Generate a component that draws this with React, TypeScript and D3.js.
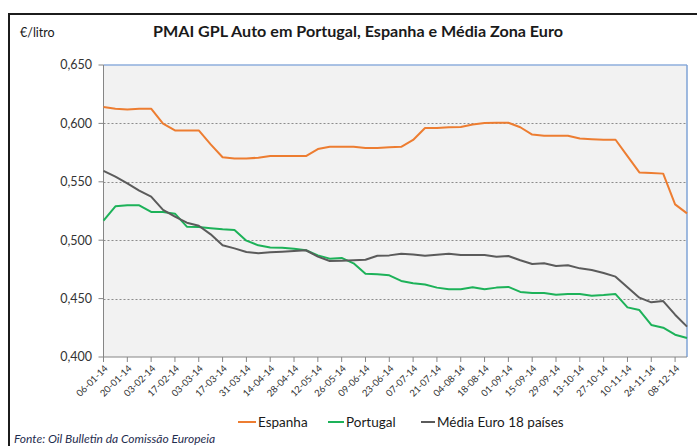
import React from "react";
import * as d3 from "d3";

const dates = [
  "06-01-14","13-01-14","20-01-14","27-01-14","03-02-14","10-02-14","17-02-14","24-02-14",
  "03-03-14","10-03-14","17-03-14","24-03-14","31-03-14","07-04-14","14-04-14","21-04-14",
  "28-04-14","05-05-14","12-05-14","19-05-14","26-05-14","02-06-14","09-06-14","16-06-14",
  "23-06-14","30-06-14","07-07-14","14-07-14","21-07-14","28-07-14","04-08-14","11-08-14",
  "18-08-14","25-08-14","01-09-14","08-09-14","15-09-14","22-09-14","29-09-14","06-10-14",
  "13-10-14","20-10-14","27-10-14","03-11-14","10-11-14","17-11-14","24-11-14","01-12-14",
  "08-12-14","15-12-14",
];

const espanha = [
  0.614,0.6126,0.612,0.6126,0.6126,0.5998,0.594,0.594,0.594,0.582,
  0.571,0.570,0.570,0.5706,0.572,0.572,0.572,0.572,0.578,0.580,
  0.580,0.580,0.579,0.579,0.5795,0.580,0.5858,0.596,0.596,0.5967,
  0.597,0.599,0.6003,0.6006,0.6006,0.5967,0.5904,0.5895,0.5895,0.5895,
  0.587,0.5865,0.586,0.586,0.572,0.558,0.5575,0.557,0.5307,0.523,
];

const portugal = [
  0.5167,0.529,0.5299,0.5299,0.5242,0.5242,0.5227,0.5116,0.5113,0.5102,
  0.5093,0.5087,0.4996,0.4956,0.4938,0.4936,0.4927,0.4914,0.487,0.4842,
  0.4848,0.4802,0.4713,0.4708,0.4699,0.4651,0.4631,0.462,0.4594,0.458,
  0.458,0.4598,0.458,0.4594,0.46,0.4557,0.4548,0.4548,0.4533,0.4539,
  0.4539,0.4525,0.453,0.4539,0.4425,0.4402,0.4274,0.4251,0.4191,0.4163,
];

const mediaEuro = [
  0.5593,0.5544,0.5487,0.5424,0.5373,0.5259,0.5201,0.515,0.5124,0.505,
  0.4956,0.493,0.4899,0.4888,0.4896,0.4902,0.4908,0.4914,0.4859,0.4822,
  0.4825,0.4828,0.4833,0.4867,0.487,0.4884,0.4878,0.4867,0.4876,0.4884,
  0.4873,0.4873,0.4873,0.4859,0.4865,0.4828,0.4796,0.4802,0.4779,0.4785,
  0.4759,0.4745,0.4719,0.4688,0.4597,0.4508,0.4468,0.4479,0.4362,0.426,
];

const yTicks = [0.4, 0.45, 0.5, 0.55, 0.6, 0.65];

const seriesNames = ["Espanha", "Portugal", "Média Euro 18 países"];
const seriesColors = ["#ED7D31", "#1DB259", "#5B5B5B"];

const W = 697;
const H = 446;
const plot = { left: 103.5, right: 687, top: 65, bottom: 357 };
const FONT = "Lato, 'Liberation Sans', sans-serif";

export default function App() {
  const x = d3.scalePoint<string>().domain(dates).range([plot.left, plot.right]);
  const y = d3.scaleLinear().domain([0.4, 0.65]).range([plot.bottom, plot.top]);
  const fmt = (v: number) => d3.format(".3f")(v).replace(".", ",");

  const line = d3
    .line<number>()
    .x((_, i) => x(dates[i]) as number)
    .y((d) => y(d));

  const series = [espanha, portugal, mediaEuro];
  const labelDates = dates.filter((_, i) => i % 2 === 0);

  const legendItems = [
    { x: 238, textX: 258 },
    { x: 328, textX: 346 },
    { x: 421, textX: 437 },
  ];

  return (
    <svg
      width={W}
      height={H}
      style={{ position: "absolute", left: 0, top: 0, background: "#fff" }}
      fontFamily={FONT}
    >
      <rect x={0} y={0} width={W} height={H} fill="#fff" />
      {/* outer frame */}
      <rect x={9} y={14} width={720} height={460} fill="none" stroke="#1c1c1c" strokeWidth={2} />

      {/* title */}
      <text x={20} y={37} fontSize={12.5} fill="#1a1a1a">€/litro</text>
      <text
        x={153}
        y={37}
        fontSize={15}
        fontWeight="bold"
        fill="#1a1a1a"
        textLength={410}
        lengthAdjust="spacingAndGlyphs"
      >
        PMAI GPL Auto em Portugal, Espanha e Média Zona Euro
      </text>

      {/* plot background */}
      <rect
        x={plot.left}
        y={plot.top}
        width={plot.right - plot.left}
        height={plot.bottom - plot.top}
        fill="#F2F2F2"
      />

      {/* gridlines */}
      {yTicks
        .filter((t) => t > 0.4 && t < 0.65)
        .map((t) => (
          <line
            key={"g" + t}
            x1={plot.left}
            x2={plot.right}
            y1={Math.round(y(t)) + 0.5}
            y2={Math.round(y(t)) + 0.5}
            stroke="#8C8C8C"
            strokeWidth={1}
            strokeDasharray="2,2"
          />
        ))}

      {/* plot border top/right */}
      <line x1={plot.left} x2={plot.right} y1={plot.top} y2={plot.top} stroke="#8EAEDC" strokeWidth={1.5} />
      <line x1={plot.right} x2={plot.right} y1={plot.top} y2={plot.bottom} stroke="#7FA3D6" strokeWidth={1.5} />

      {/* axes */}
      <line x1={plot.left} x2={plot.left} y1={plot.top} y2={plot.bottom} stroke="#868686" strokeWidth={1} />
      <line x1={plot.left} x2={plot.right} y1={plot.bottom} y2={plot.bottom} stroke="#868686" strokeWidth={1} />

      {/* y ticks & labels */}
      {yTicks.map((t) => (
        <g key={"y" + t}>
          <line x1={plot.left - 5} x2={plot.left} y1={y(t)} y2={y(t)} stroke="#868686" />
          <text
            x={92}
            y={y(t)}
            dy="0.35em"
            textAnchor="end"
            fontSize={12.5}
            fill="#333"
          >
            {fmt(t)}
          </text>
        </g>
      ))}

      {/* x ticks & labels */}
      {labelDates.map((d) => {
        const px = x(d) as number;
        return (
          <g key={"x" + d}>
            <line x1={px} x2={px} y1={plot.bottom} y2={plot.bottom + 5} stroke="#868686" />
            <text
              transform={`translate(${px + 5},${plot.bottom + 12}) rotate(-45)`}
              textAnchor="end"
              fontSize={9.5}
              fill="#333"
            >
              {d}
            </text>
          </g>
        );
      })}

      {/* series */}
      {series.map((s, i) => (
        <path
          key={"s" + i}
          d={line(s) || ""}
          fill="none"
          stroke={seriesColors[i]}
          strokeWidth={2}
          strokeLinejoin="round"
        />
      ))}

      {/* legend */}
      {seriesNames.map((n, i) => (
        <g key={"l" + i}>
          <line
            x1={legendItems[i].x}
            x2={legendItems[i].textX - 2}
            y1={422}
            y2={422}
            stroke={seriesColors[i]}
            strokeWidth={2}
          />
          <text x={legendItems[i].textX} y={427} fontSize={13.5} fill="#1a1a1a">
            {n}
          </text>
        </g>
      ))}

      {/* source */}
      <text x={14} y={443} fontSize={12} fontStyle="italic" fill="#1F2D4F">
        Fonte: Oil Bulletin  da Comissão Europeia
      </text>
    </svg>
  );
}
